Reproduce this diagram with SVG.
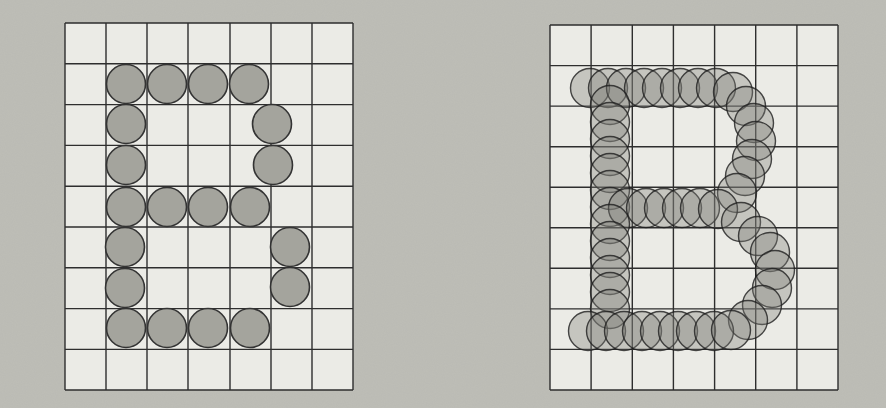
<svg xmlns="http://www.w3.org/2000/svg" width="886" height="408" viewBox="0 0 886 408">
<defs>
<filter id="grain" x="0" y="0" width="100%" height="100%">
<feTurbulence type="fractalNoise" baseFrequency="0.9" numOctaves="2" seed="3" result="n"/>
<feColorMatrix in="n" type="matrix" values="0 0 0 0 0.45  0 0 0 0 0.45  0 0 0 0 0.42  0 0 0 0.35 0"/>
</filter>
<style>
.bg{fill:#bebeb7}
.cell{fill:#ebebe6}
.gl{stroke:#2e2e2e;stroke-width:1.4;fill:none}
.dotL{fill:#a4a49d;stroke:#333;stroke-width:1.6}
.dotR{fill:#7c7c76;fill-opacity:0.34;stroke:#1e1e1e;stroke-opacity:0.8;stroke-width:1.4}
</style>
</defs>
<rect class="bg" x="0" y="0" width="886" height="408"/>
<rect x="0" y="0" width="886" height="408" filter="url(#grain)"/>

<g id="left-grid">
<rect class="cell" x="65" y="23" width="288" height="367"/>
<path class="gl" d="M65,23V390 M106,23V390 M147,23V390 M188,23V390 M230,23V390 M271,23V390 M312,23V390 M353,23V390 M65,23H353 M65,63.8H353 M65,104.6H353 M65,145.4H353 M65,186.2H353 M65,227H353 M65,267.8H353 M65,308.6H353 M65,349.4H353 M65,390H353"/>
</g>

<g id="left-dots">
<circle class="dotL" cx="126" cy="84" r="19.5"/>
<circle class="dotL" cx="167" cy="84" r="19.5"/>
<circle class="dotL" cx="208" cy="84" r="19.5"/>
<circle class="dotL" cx="249" cy="84" r="19.5"/>
<circle class="dotL" cx="126" cy="124" r="19.5"/>
<circle class="dotL" cx="272" cy="124" r="19.5"/>
<circle class="dotL" cx="126" cy="165" r="19.5"/>
<circle class="dotL" cx="273" cy="165" r="19.5"/>
<circle class="dotL" cx="126" cy="207" r="19.5"/>
<circle class="dotL" cx="167" cy="207" r="19.5"/>
<circle class="dotL" cx="208" cy="207" r="19.5"/>
<circle class="dotL" cx="250" cy="207" r="19.5"/>
<circle class="dotL" cx="125" cy="247" r="19.5"/>
<circle class="dotL" cx="290" cy="247" r="19.5"/>
<circle class="dotL" cx="125" cy="288" r="19.5"/>
<circle class="dotL" cx="290" cy="287" r="19.5"/>
<circle class="dotL" cx="126" cy="328" r="19.5"/>
<circle class="dotL" cx="167" cy="328" r="19.5"/>
<circle class="dotL" cx="208" cy="328" r="19.5"/>
<circle class="dotL" cx="250" cy="328" r="19.5"/>
</g>

<g id="right-grid">
<rect class="cell" x="550" y="25" width="288" height="365"/>
<path class="gl" d="M550,25V390 M591.1,25V390 M632.3,25V390 M673.4,25V390 M714.6,25V390 M755.7,25V390 M796.9,25V390 M838,25V390 M550,25H838 M550,65.6H838 M550,106.1H838 M550,146.7H838 M550,187.2H838 M550,227.8H838 M550,268.3H838 M550,308.9H838 M550,349.4H838 M550,390H838"/>
</g>

<g id="right-dots">
<circle class="dotR" cx="590" cy="88" r="19.5"/>
<circle class="dotR" cx="608" cy="88" r="19.5"/>
<circle class="dotR" cx="626" cy="88" r="19.5"/>
<circle class="dotR" cx="644" cy="88" r="19.5"/>
<circle class="dotR" cx="662" cy="88" r="19.5"/>
<circle class="dotR" cx="680" cy="88" r="19.5"/>
<circle class="dotR" cx="698" cy="88" r="19.5"/>
<circle class="dotR" cx="716" cy="88" r="19.5"/>
<circle class="dotR" cx="733" cy="92" r="19.5"/>
<circle class="dotR" cx="746" cy="106" r="19.5"/>
<circle class="dotR" cx="754" cy="123" r="19.5"/>
<circle class="dotR" cx="756" cy="141" r="19.5"/>
<circle class="dotR" cx="752" cy="159" r="19.5"/>
<circle class="dotR" cx="745" cy="176" r="19.5"/>
<circle class="dotR" cx="737" cy="193" r="19.5"/>
<circle class="dotR" cx="610" cy="105" r="19.5"/>
<circle class="dotR" cx="610" cy="122" r="19.5"/>
<circle class="dotR" cx="610" cy="139" r="19.5"/>
<circle class="dotR" cx="610" cy="156" r="19.5"/>
<circle class="dotR" cx="610" cy="173" r="19.5"/>
<circle class="dotR" cx="610" cy="190" r="19.5"/>
<circle class="dotR" cx="610" cy="207" r="19.5"/>
<circle class="dotR" cx="628" cy="208" r="19.5"/>
<circle class="dotR" cx="646" cy="208" r="19.5"/>
<circle class="dotR" cx="664" cy="208" r="19.5"/>
<circle class="dotR" cx="682" cy="208" r="19.5"/>
<circle class="dotR" cx="700" cy="208" r="19.5"/>
<circle class="dotR" cx="718" cy="209" r="19.5"/>
<circle class="dotR" cx="741" cy="222" r="19.5"/>
<circle class="dotR" cx="758" cy="236" r="19.5"/>
<circle class="dotR" cx="770" cy="252" r="19.5"/>
<circle class="dotR" cx="775" cy="270" r="19.5"/>
<circle class="dotR" cx="772" cy="288" r="19.5"/>
<circle class="dotR" cx="762" cy="305" r="19.5"/>
<circle class="dotR" cx="748" cy="320" r="19.5"/>
<circle class="dotR" cx="610" cy="224" r="19.5"/>
<circle class="dotR" cx="610" cy="241" r="19.5"/>
<circle class="dotR" cx="610" cy="258" r="19.5"/>
<circle class="dotR" cx="610" cy="275" r="19.5"/>
<circle class="dotR" cx="610" cy="292" r="19.5"/>
<circle class="dotR" cx="610" cy="309" r="19.5"/>
<circle class="dotR" cx="588" cy="331" r="19.5"/>
<circle class="dotR" cx="606" cy="331" r="19.5"/>
<circle class="dotR" cx="624" cy="331" r="19.5"/>
<circle class="dotR" cx="642" cy="331" r="19.5"/>
<circle class="dotR" cx="660" cy="331" r="19.5"/>
<circle class="dotR" cx="678" cy="331" r="19.5"/>
<circle class="dotR" cx="696" cy="331" r="19.5"/>
<circle class="dotR" cx="714" cy="331" r="19.5"/>
<circle class="dotR" cx="731" cy="330" r="19.5"/>
</g>
</svg>
